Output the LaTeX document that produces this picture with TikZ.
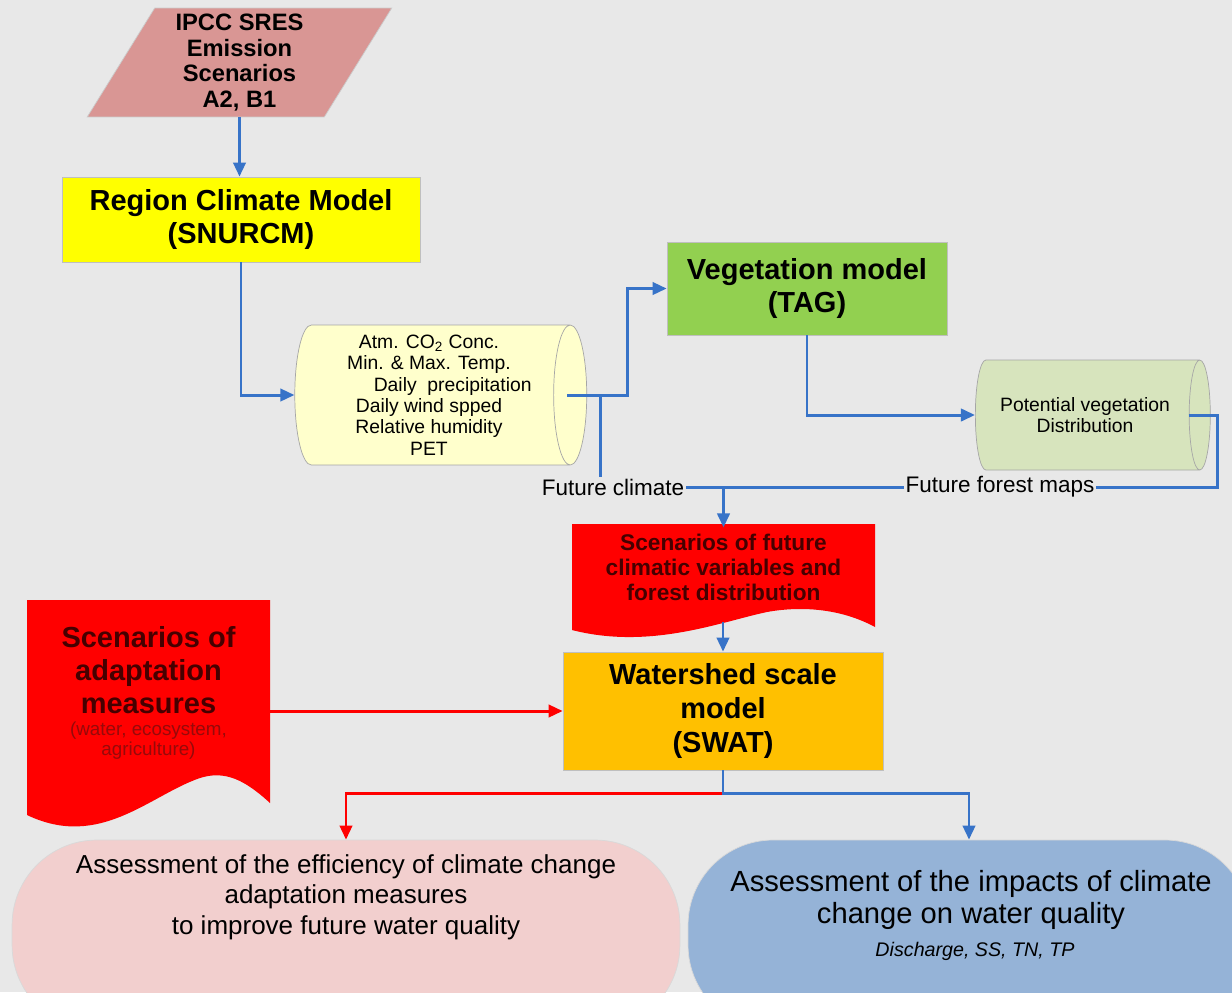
\documentclass[tikz,border=0pt]{standalone}
\usepackage{fontspec}
\setmainfont{Liberation Sans}
\usetikzlibrary{arrows.meta,shapes.geometric}
\definecolor{bgray}{RGB}{232,232,232}
\definecolor{ipccred}{RGB}{217,150,148}
\definecolor{boxyellow}{RGB}{255,255,0}
\definecolor{cylyellow}{RGB}{255,255,204}
\definecolor{veggreen}{RGB}{146,208,80}
\definecolor{cylgreen}{RGB}{215,228,189}
\definecolor{swatorange}{RGB}{255,192,0}
\definecolor{efficpink}{RGB}{242,207,206}
\definecolor{impactblue}{RGB}{149,179,215}
\definecolor{flowblue}{RGB}{55,115,200}
\definecolor{docred}{RGB}{255,0,0}
\definecolor{doctext}{RGB}{70,0,0}
\definecolor{notered}{RGB}{150,10,10}

\begin{document}
\begin{tikzpicture}[x=0.02cm, y=-0.02cm,
	box/.style={rectangle, draw=black!25, thin, align=center, font=\bfseries\fontsize{16.5}{19.2}\selectfont},
	cyl/.style={cylinder, draw=black!35, thin, aspect=0.25, align=center},
	flow/.style={draw=flowblue, line width=1.7pt, -{Triangle[length=8pt,width=7pt]}},
	redflow/.style={flow, draw=red},
	line/.style={draw=flowblue, line width=1.7pt},
	stadium/.style={rectangle, rounded corners=1.7cm, draw=black!15, inner sep=0pt}]
	\useasboundingbox (0,0) rectangle (1232,992);
	\clip (0,0) rectangle (1232,992);
	\fill [bgray] (0,0) rectangle (1232,992);
	% boxes
	\node (ipcc) [trapezium, trapezium left angle=63, trapezium right angle=117, trapezium stretches=true, minimum width=6.1cm, minimum height=2.06cm, fill=ipccred, draw=black!20, align=center, font=\bfseries\fontsize{13.5}{14.6}\selectfont] at (239.5,62.5) {IPCC SRES\\Emission\\Scenarios\\A2, B1};
	\node (region) [box, fill=boxyellow, minimum width=7.16cm, minimum height=1.7cm] at (241,219.5) {Region Climate Model\\(SNURCM)};
	\node (cyl1) [cyl, fill=cylyellow, minimum height=5.84cm, minimum width=2.8cm, font=\fontsize{11}{12.2}\selectfont] at (429,395) {Atm. CO\textsubscript{2} Conc.\\Min. \& Max. Temp.\\\hspace*{27pt}Daily\ \ precipitation\\Daily wind spped\\Relative humidity\\PET};
	\node (veg) [box, fill=veggreen, minimum width=5.6cm, minimum height=1.86cm] at (807,288.5) {Vegetation model\\(TAG)};
	\node (cyl2) [cyl, aspect=0.45, fill=cylgreen, minimum height=4.7cm, minimum width=2.2cm, font=\fontsize{11}{12}\selectfont] at (1085,415) {Potential vegetation\\Distribution};
	\node (futclim) [font=\fontsize{12.8}{15}\selectfont, inner sep=1pt] at (613,487) {Future climate};
	\node (futfor) [font=\fontsize{12.8}{15}\selectfont, inner sep=1pt] at (1000,487) {Future forest maps};
	\fill [docred] (572,524) -- (875,524) -- (875,627) .. controls (840,608) and (800,606) .. (767,612) .. controls (720,622) and (650,650) .. (572,630) -- cycle;
	\node (climdoc) [align=center, text=doctext, minimum width=6.06cm, font=\bfseries\fontsize{12.9}{14.2}\selectfont] at (723.5,567) {Scenarios of future\\climatic variables and\\forest distribution};
	\coordinate (climwave) at (723,622);
	\fill [docred] (27,600) -- (270,600) -- (270,803) .. controls (245,780) and (225,770) .. (200,778) .. controls (150,795) and (100,850) .. (27,815) -- cycle;
	\node (adapt) [align=center, text=doctext, minimum width=4.86cm, font=\bfseries\fontsize{16.5}{18.7}\selectfont] at (148.5,670) {Scenarios of\\adaptation\\measures};
	\node (adaptnote) [align=center, text=notered, font=\fontsize{10.7}{11.4}\selectfont] at (148.5,741) {(water, ecosystem,\\agriculture)};
	\node (swat) [box, fill=swatorange, minimum width=6.4cm, minimum height=2.36cm] at (723,711) {Watershed scale\\model\\(SWAT)};
	\node (effic) [stadium, fill=efficpink, minimum width=13.36cm, minimum height=3.8cm] at (346,935) {};
	\node (effictext) [align=center, font=\fontsize{14.8}{17.3}\selectfont] at (346,897) {Assessment of the efficiency of climate change\\adaptation measures\\to improve future water quality};
	\node (impact) [stadium, fill=impactblue, minimum width=11.24cm, minimum height=3.8cm] at (969,935) {};
	\node (impacttext) [align=center, font=\fontsize{16.6}{18.1}\selectfont] at (971,900) {Assessment of the impacts of climate\\change on water quality};
	\node (impactnote) [font=\itshape\fontsize{11.2}{13}\selectfont] at (975,951) {Discharge, SS, TN, TP};
	% connectors
	\draw [flow] (ipcc.center |- ipcc.south) -- (ipcc.center |- region.north);
	\draw [flow] (region.south) |- (cyl1.west);
	\draw [flow] ([xshift=-0.4cm]cyl1.east) -| ([xshift=-0.78cm]veg.west) -- (veg.west);
	\draw [line] ([xshift=0.26cm]cyl1.east) -- ([xshift=0.26cm]cyl1.east |- futclim.north);
	\draw [line] (futclim.east) -- (futfor.west);
	\draw [flow] (climdoc.north |- futclim.east) -- (climdoc.north);
	\draw [flow] (veg.south) |- (cyl2.west);
	\draw [line] ([xshift=-0.44cm]cyl2.east) -- ++(29,0) |- (futfor.east);
	\draw [flow] (climwave) -- (climwave |- swat.north);
	\draw [redflow] (adapt.east |- swat.west) -- (swat.west);
	\draw [redflow] ([yshift=-0.46cm]swat.south) -| (effic.north);
	\draw [flow] (swat.south) -- ++(0,23) -| (impact.north);
\end{tikzpicture}
\end{document}
